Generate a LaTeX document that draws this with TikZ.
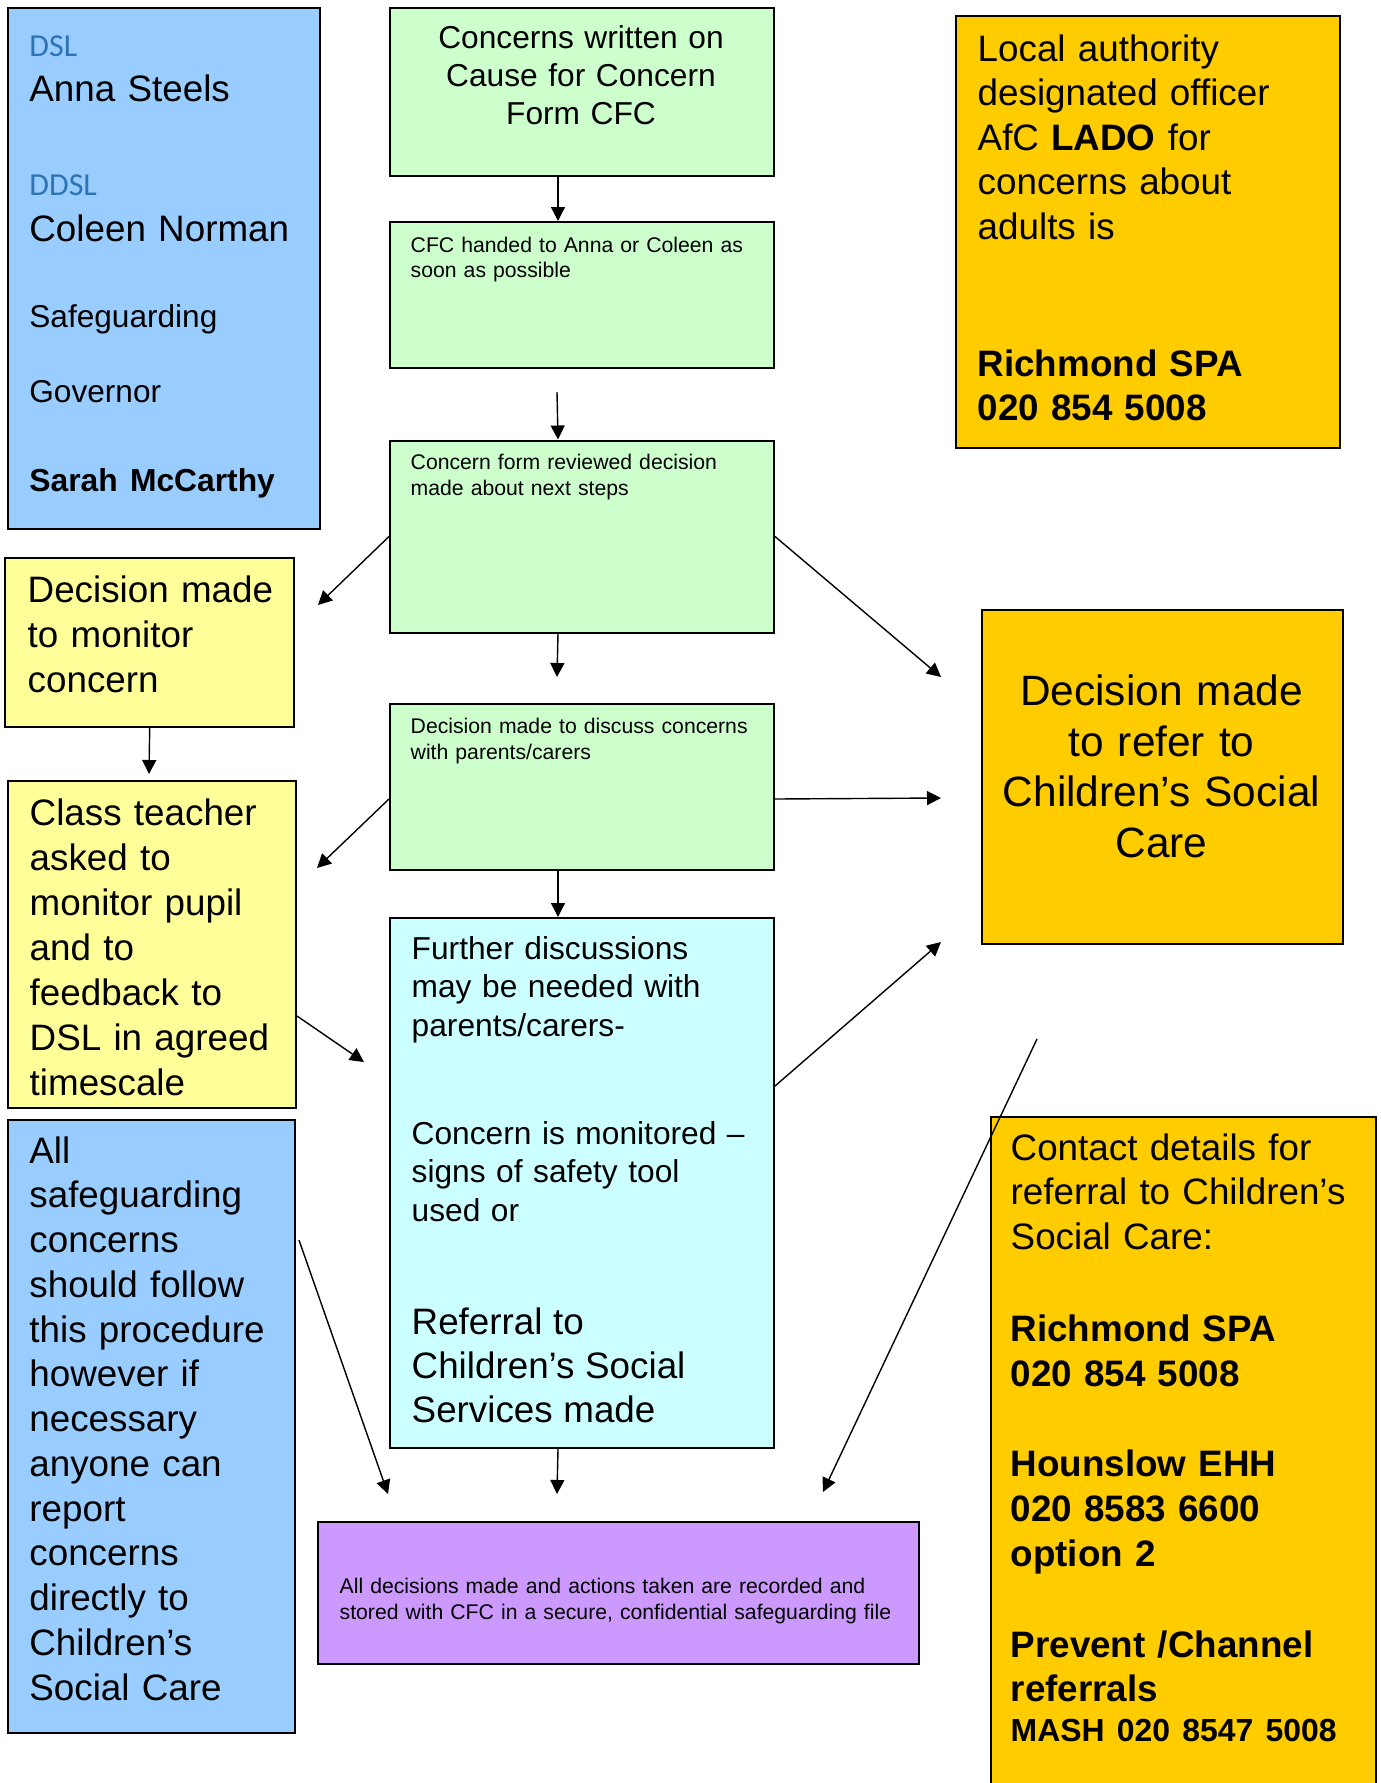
\documentclass[tikz,border=0pt]{standalone}
\usepackage{fontspec}
\setmainfont{Liberation Sans}
\newfontfamily\dslfont{Carlito}
\usetikzlibrary{arrows.meta}
\definecolor{boxblue}{HTML}{99CCFF}
\definecolor{boxgreen}{HTML}{CCFFCC}
\definecolor{boxyellow}{HTML}{FFFF99}
\definecolor{boxorange}{HTML}{FFCC00}
\definecolor{boxcyan}{HTML}{CCFFFF}
\definecolor{boxpurple}{HTML}{CC99FF}
\definecolor{dslblue}{RGB}{46,116,181}
\begin{document}
\begin{tikzpicture}[x=1pt, y=-1pt, line width=1.4pt, >={Triangle[width=14pt,length=14pt]},
    box/.style = {draw, line width=2pt, rectangle, inner sep=0pt, anchor=north west},
    txt/.style = {anchor=base west, inner sep=0pt, align=left},
    big/.style = {font=\fontsize{36.8}{44.7}\selectfont},
    small/.style = {font=\fontsize{21.2}{25.8}\selectfont}]
    \path[use as bounding box, clip] (0,0) rectangle (1381,1783);

    % boxes
    \node[box, fill=boxblue, minimum width=312, minimum height=521.5] (staff) at (7,6.5) {};
    \node[box, fill=boxgreen, minimum width=384, minimum height=168] (cfc) at (389,7) {};
    \node[box, fill=boxgreen, minimum width=384, minimum height=146] (hand) at (389,221) {};
    \node[box, fill=boxgreen, minimum width=384, minimum height=192] (review) at (389,439.5) {};
    \node[box, fill=boxgreen, minimum width=384, minimum height=166] (discuss) at (389,703) {};
    \node[box, fill=boxcyan, minimum width=384, minimum height=530] (further) at (389,917) {};
    \node[box, fill=boxyellow, minimum width=288.6, minimum height=169] (monitor) at (4.4,557) {};
    \node[box, fill=boxyellow, minimum width=288.3, minimum height=327] (teacher) at (6.7,780) {};
    \node[box, fill=boxblue, minimum width=287, minimum height=612.8] (anyone) at (7,1118.7) {};
    \node[box, fill=boxorange, minimum width=384, minimum height=432.3] (lado) at (955,14.7) {};
    \node[box, fill=boxorange, minimum width=361, minimum height=334.4] (refer) at (981,608.6) {};
    \node[box, fill=boxorange, minimum width=385.4, minimum height=700] (contact) at (989.6,1115.7) {};
    \node[box, fill=boxpurple, minimum width=601, minimum height=142] (record) at (317,1520.7) {};

    % texts
    \node[txt, big, text width=285, font=\fontsize{36.8}{45}\selectfont] (staff-t) at (28.7,56)
        {{\dslfont\fontsize{32}{45}\selectfont\color{dslblue}DSL}\\
         Anna Steels\\[49pt]
         {\dslfont\fontsize{32}{45}\selectfont\color{dslblue}DDSL}\\[1pt]
         Coleen Norman\\[41pt]
         {\fontsize{31.6}{45}\selectfont Safeguarding}\\[30pt]
         {\fontsize{31.6}{45}\selectfont Governor}\\[44pt]
         {\fontsize{31.8}{45}\selectfont\bfseries Sarah McCarthy}};
    \node[anchor=base, inner sep=0pt, text width=370, align=center,
          font=\fontsize{31.7}{38.3}\selectfont] (cfc-t) at (581,48)
        {Concerns written on\\ Cause for Concern\\ Form CFC};
    \node[txt, small, text width=355] (hand-t) at (410,252)
        {CFC handed to Anna or Coleen as\\ soon as possible};
    \node[txt, small, text width=355] (review-t) at (410,469.5)
        {Concern form reviewed decision\\ made about next steps};
    \node[txt, small, text width=355] (discuss-t) at (410,733.6)
        {Decision made to discuss concerns\\ with parents/carers};
    \node[txt, text width=355, font=\fontsize{31.7}{38.5}\selectfont] (further-t) at (411,959)
        {Further discussions\\ may be needed with\\ parents/carers-\\[69.5pt]
         Concern is monitored –\\ signs of safety tool\\ used or\\[69pt]
         \fontsize{36.8}{44}\selectfont Referral to\\ Children’s Social\\ Services made\par};
    \node[txt, big, text width=265, font=\fontsize{36.8}{45}\selectfont] (monitor-t) at (27,602)
        {Decision made\\ to monitor\\ concern};
    \node[txt, big, text width=265, font=\fontsize{36.8}{45}\selectfont] (teacher-t) at (29,825)
        {Class teacher\\ asked to\\ monitor pupil\\ and to\\ feedback to\\ DSL in agreed\\ timescale};
    \node[txt, big, text width=265, font=\fontsize{36.8}{44.75}\selectfont] (anyone-t) at (28.7,1163)
        {All\\ safeguarding\\ concerns\\ should follow\\ this procedure\\ however if\\ necessary\\
         anyone can\\ report\\ concerns\\ directly to\\ Children’s\\ Social Care};
    \node[txt, big, text width=355, font=\fontsize{36.8}{44.6}\selectfont] (lado-t) at (977,61)
        {Local authority\\ designated officer\\ AfC \textbf{LADO} for\\ concerns about\\ adults is\\[92pt]
         \textbf{Richmond SPA}\\ \textbf{020 854 5008}};
    \node[anchor=base, inner sep=0pt, text width=350, align=center,
          font=\fontsize{42.4}{50.5}\selectfont] (refer-t) at (1161.5,705.5)
        {Decision made\\ to refer to\\ Children’s Social\\ Care};
    \node[txt, big, text width=362, font=\fontsize{36.8}{44.6}\selectfont] (contact-t) at (1010,1160)
        {Contact details for\\ referral to Children’s\\ Social Care:\\[48pt]
         \textbf{Richmond SPA}\\ \textbf{020 854 5008}\\[45.8pt]
         \textbf{Hounslow EHH}\\ \textbf{020 8583 6600}\\ \textbf{option 2}\\[46.4pt]
         \textbf{Prevent /Channel}\\ \textbf{referrals}\\[-4.6pt]
         {\fontsize{31.9}{44.6}\selectfont\bfseries MASH 020 8547 5008}};
    \node[txt, small, text width=575, font=\fontsize{21.2}{26}\selectfont] (record-t) at (339,1593)
        {All decisions made and actions taken are recorded and\\ stored with CFC in a secure, confidential safeguarding file};

    % free arrow ends
    \coordinate (handGap) at (557,392);
    \coordinate (monitorTip) at (318,605);
    \coordinate (referTipA) at (941,677);
    \coordinate (reviewTip) at (557,677);
    \coordinate (teacherTip) at (149,774);
    \coordinate (discussTip) at (317,868);
    \coordinate (referTipB) at (941,798);
    \coordinate (furtherTip) at (364,1062);
    \coordinate (referTipC) at (941,942);
    \coordinate (contactStart) at (1037,1039);
    \coordinate (recordTipR) at (823,1492);
    \coordinate (recordTipL) at (388,1494);
    \coordinate (recordTipM) at (557,1494);

    % arrows
    \draw[->] ([xshift=-24pt]cfc.south) -- ([xshift=-24pt]hand.north);
    \draw[->] (handGap) -- ([xshift=-24pt]review.north);
    \draw[->] (review.west) -- (monitorTip);
    \draw[->] (review.east) -- (referTipA);
    \draw[->] ([xshift=-24pt]review.south) -- (reviewTip);
    \draw[->] (monitor.south) -- (teacherTip);
    \draw[->] ([yshift=-12pt]discuss.west) -- (discussTip);
    \draw[->] ([yshift=-12pt]discuss.east) -- (referTipB);
    \draw[->] ([xshift=-24pt]discuss.south) -- ([xshift=-24pt]further.north);
    \draw[->] ([yshift=-71.5pt]teacher.east) -- (furtherTip);
    \draw[->] ([yshift=97pt]further.east) -- (referTipC);
    \draw[->] (contactStart) -- (recordTipR);
    \draw[->] ([shift={(3pt,186pt)}]anyone.east) -- (recordTipL);
    \draw[->] ([xshift=-24pt]further.south) -- (recordTipM);
\end{tikzpicture}
\end{document}
